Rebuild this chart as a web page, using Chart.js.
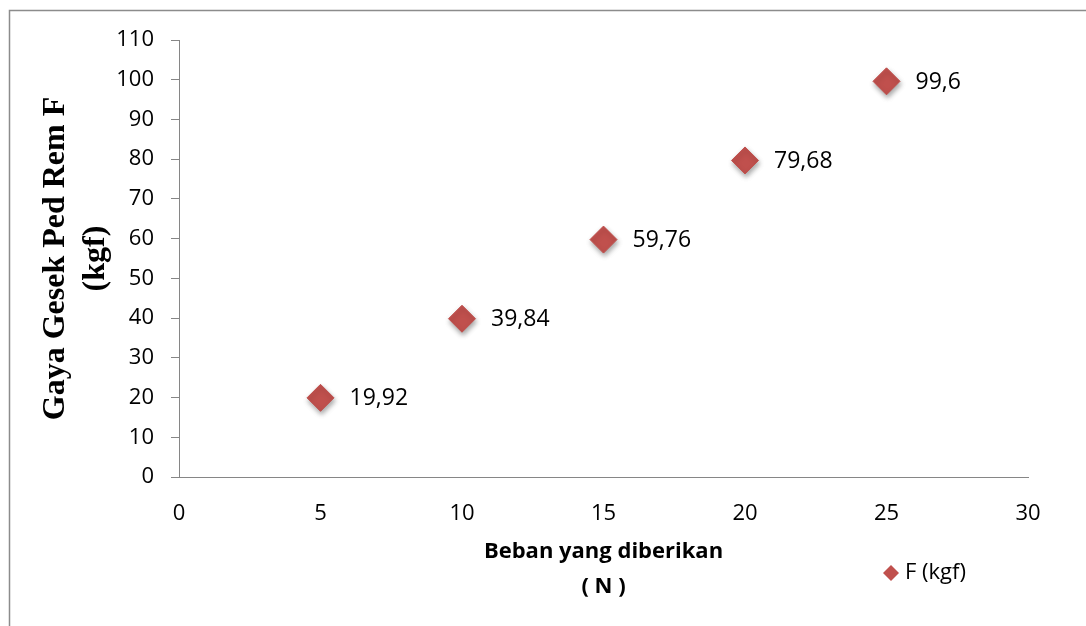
<!DOCTYPE html>
<html>
<head>
<meta charset="utf-8">
<title>Gaya Gesek Ped Rem</title>
<script src="https://cdn.jsdelivr.net/npm/chart.js@4.4.1/dist/chart.umd.min.js"></script>
<style>
  html, body { margin: 0; padding: 0; background: #fff; }
  #wadah { width: 1086px; height: 626px; }
</style>
</head>
<body>
<div id="wadah"><canvas id="grafikGaya" width="1086" height="626"></canvas></div>
<script>
// Data pengujian: beban (N) dan gaya gesek (kgf)
const beban = [5, 10, 15, 20, 25];
const gayaGesek = [19.92, 39.84, 59.76, 79.68, 99.6];
const namaSeri = 'F (kgf)';
const judulX = ['Beban yang diberikan', '( N )'];
const judulY = ['Gaya Gesek Ped Rem F', '(kgf)'];

const warnaTitik = '#C0504D';
const warnaGaris = '#868686';
const hurufSans = "'Open Sans', 'Noto Sans', sans-serif";

// bingkai abu-abu di atas dan kiri
const pluginBingkai = {
  id: 'bingkai',
  beforeDraw(chart) {
    const ctx = chart.ctx;
    ctx.save();
    ctx.fillStyle = '#fff';
    ctx.fillRect(0, 0, chart.width, chart.height);
    ctx.strokeStyle = '#8c8c8c';
    ctx.lineWidth = 1.5;
    ctx.beginPath();
    ctx.moveTo(9.5, chart.height);
    ctx.lineTo(9.5, 10.5);
    ctx.lineTo(chart.width, 10.5);
    ctx.stroke();
    ctx.restore();
  }
};

// bayangan di bawah titik
const pluginBayangan = {
  id: 'bayangan',
  beforeDatasetsDraw(chart) {
    const ctx = chart.ctx;
    ctx.save();
    ctx.shadowColor = 'rgba(0,0,0,0.35)';
    ctx.shadowBlur = 5;
    ctx.shadowOffsetX = 1;
    ctx.shadowOffsetY = 3;
  },
  afterDatasetsDraw(chart) {
    chart.ctx.restore();
  }
};

// label nilai di kanan titik + legenda
const pluginLabel = {
  id: 'labelNilai',
  afterDraw(chart) {
    const ctx = chart.ctx;
    const meta = chart.getDatasetMeta(0);
    ctx.save();
    ctx.fillStyle = '#000';
    ctx.font = '23px ' + hurufSans;
    ctx.textAlign = 'left';
    ctx.textBaseline = 'middle';
    meta.data.forEach((titik, i) => {
      const teks = String(gayaGesek[i]).replace('.', ',');
      ctx.fillText(teks, titik.x + 29, titik.y + 1);
    });

    // legenda
    const lx = 891, ly = 573, r = 8;
    ctx.fillStyle = warnaTitik;
    ctx.beginPath();
    ctx.moveTo(lx - r, ly);
    ctx.lineTo(lx, ly - r);
    ctx.lineTo(lx + r, ly);
    ctx.lineTo(lx, ly + r);
    ctx.closePath();
    ctx.fill();
    ctx.fillStyle = '#000';
    ctx.font = '22px ' + hurufSans;
    ctx.fillText(namaSeri, 905, ly);
    ctx.restore();
  }
};

const ctx = document.getElementById('grafikGaya').getContext('2d');
const grafik = new Chart(ctx, {
  type: 'scatter',
  data: {
    datasets: [{
      label: namaSeri,
      data: beban.map((b, i) => ({ x: b, y: gayaGesek[i] })),
      pointStyle: 'rectRot',
      pointRadius: 13.5,
      pointHoverRadius: 13.5,
      backgroundColor: warnaTitik,
      borderColor: warnaTitik,
      borderWidth: 1
    }]
  },
  options: {
    responsive: false,
    animation: false,
    events: [],
    layout: { padding: { left: 0, top: 40, right: 58, bottom: 0 } },
    plugins: {
      legend: { display: false },
      tooltip: { enabled: false }
    },
    scales: {
      x: {
        type: 'linear',
        min: 0,
        max: 30,
        afterFit(scale) { scale.height = 149; },
        ticks: {
          stepSize: 5,
          color: '#000',
          padding: 24,
          maxRotation: 0,
          font: { family: hurufSans, size: 22 }
        },
        grid: { display: true, drawOnChartArea: false, drawTicks: false },
        border: { display: true, color: warnaGaris, width: 1 },
        title: {
          display: true,
          text: judulX,
          color: '#000',
          font: { family: hurufSans, size: 22, weight: 'bold', lineHeight: 1.57 },
          padding: { top: 0, bottom: 22 }
        }
      },
      y: {
        type: 'linear',
        min: 0,
        max: 110,
        afterFit(scale) { scale.width = 179; },
        ticks: {
          stepSize: 10,
          color: '#000',
          padding: 17,
          font: { family: hurufSans, size: 22 }
        },
        grid: {
          display: true,
          drawOnChartArea: false,
          drawTicks: true,
          tickLength: 8,
          color: warnaGaris
        },
        border: { display: true, color: warnaGaris, width: 1 },
        title: {
          display: true,
          text: judulY,
          color: '#000',
          font: { family: "'Liberation Serif', 'DejaVu Serif', serif", size: 32, weight: 'bold', lineHeight: 1.25 },
          padding: { top: 36, bottom: 0 }
        }
      }
    }
  },
  plugins: [pluginBingkai, pluginBayangan, pluginLabel]
});
</script>
</body>
</html>
